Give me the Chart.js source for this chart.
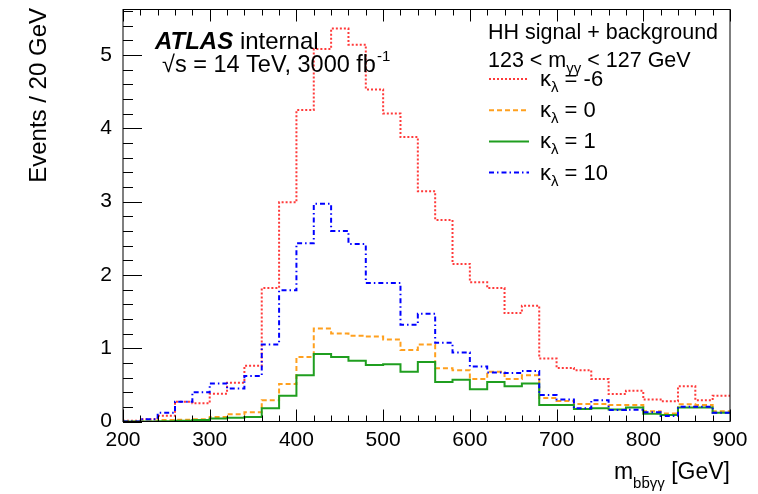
<!DOCTYPE html>
<html>
<head>
<meta charset="utf-8">
<script src="https://cdn.jsdelivr.net/npm/chart.js@4.4.1/dist/chart.umd.min.js"></script>
<style>
  html, body { margin: 0; padding: 0; background: #fff; }
  #wrap { width: 758px; height: 494px; }
</style>
</head>
<body>
<div id="wrap"><canvas id="hhChart"></canvas></div>
<script>
// bin lower edges in GeV (20 GeV bins), last bin closes at xMax
const binLow = [200, 220, 240, 260, 280, 300, 320, 340, 360, 380,
                400, 420, 440, 460, 480, 500, 520, 540, 560, 580,
                600, 620, 640, 660, 680, 700, 720, 740, 760, 780,
                800, 820, 840, 860, 880];
const xMax = 900;

// events per bin
const kMinus6 = [0.01, 0.03, 0.08, 0.27, 0.25, 0.38, 0.53, 0.76, 1.82, 2.99,
                 4.25, 5.08, 5.36, 5.14, 4.53, 4.20, 3.88, 3.14, 2.75, 2.15,
                 1.90, 1.82, 1.48, 1.58, 0.86, 0.73, 0.70, 0.58, 0.375, 0.42,
                 0.30, 0.275, 0.48, 0.29, 0.35];
const kZero = [0.0, 0.0, 0.02, 0.025, 0.03, 0.06, 0.10, 0.125, 0.29, 0.51,
               0.88, 1.27, 1.20, 1.17, 1.16, 1.12, 0.975, 1.05, 0.725, 0.70,
               0.58, 0.68, 0.58, 0.63, 0.32, 0.28, 0.24, 0.24, 0.225, 0.225,
               0.14, 0.11, 0.235, 0.225, 0.14];
const kOne = [0.0, 0.0, 0.005, 0.01, 0.02, 0.04, 0.05, 0.06, 0.18, 0.35,
              0.63, 0.92, 0.88, 0.83, 0.77, 0.78, 0.68, 0.81, 0.54, 0.57,
              0.44, 0.54, 0.48, 0.52, 0.225, 0.225, 0.17, 0.18, 0.165, 0.19,
              0.105, 0.09, 0.19, 0.19, 0.12];
const kTen = [0.0, 0.03, 0.12, 0.27, 0.40, 0.52, 0.45, 0.62, 1.05, 1.79,
              2.43, 2.97, 2.60, 2.42, 1.89, 1.89, 1.32, 1.47, 1.075, 0.94,
              0.75, 0.67, 0.66, 0.69, 0.36, 0.30, 0.18, 0.29, 0.157, 0.16,
              0.125, 0.075, 0.20, 0.20, 0.12];

const legendValues = ['-6', '0', '1', '10'];
const xTickValues = [200, 300, 400, 500, 600, 700, 800, 900];
const yTickValues = [0, 1, 2, 3, 4, 5];
const yMax = 5.62;

const FONT = '"Liberation Sans", Arial, Helvetica, sans-serif';

// turn bin contents into step points (left edges + closing edge)
function histPoints(vals) {
  const pts = binLow.map((x, i) => ({ x: x, y: vals[i] }));
  pts.push({ x: xMax, y: vals[vals.length - 1] });
  return pts;
}

// ROOT-like frame, inward ticks, labels and legend
const rootStyle = {
  id: 'rootStyle',
  beforeDraw(chart) {
    const ctx = chart.ctx;
    ctx.save();
    ctx.fillStyle = '#fff';
    ctx.fillRect(0, 0, chart.width, chart.height);
    ctx.restore();
  },
  afterDraw(chart) {
    const { ctx, chartArea: a } = chart;
    const xs = chart.scales.x, ys = chart.scales.y;
    ctx.save();
    ctx.strokeStyle = '#000';
    ctx.lineWidth = 1;
    ctx.setLineDash([]);
    ctx.strokeRect(a.left, a.top, a.right - a.left, a.bottom - a.top);

    ctx.beginPath();
    for (let v = 200; v <= 900; v += 20) {
      const px = Math.round(xs.getPixelForValue(v)) + 0.5;
      const len = v % 100 === 0 ? 12 : 6;
      ctx.moveTo(px, a.bottom); ctx.lineTo(px, a.bottom - len);
      ctx.moveTo(px, a.top); ctx.lineTo(px, a.top + len);
    }
    for (let k = 0; k <= 28; k++) {
      const py = Math.round(ys.getPixelForValue(k * 0.2)) + 0.5;
      const len = k % 5 === 0 ? 19 : 10;
      ctx.moveTo(a.left, py); ctx.lineTo(a.left + len, py);
    }
    ctx.stroke();

    ctx.fillStyle = '#000';
    ctx.textBaseline = 'alphabetic';
    ctx.textAlign = 'left';

    // ATLAS label
    ctx.font = 'italic bold 24px ' + FONT;
    ctx.fillText('ATLAS', 155, 49);
    const wAtlas = ctx.measureText('ATLAS').width;
    ctx.font = '24px ' + FONT;
    ctx.fillText(' internal', 155 + wAtlas, 49);

    ctx.font = '23.5px ' + FONT;
    const lumi = '\u221As = 14 TeV, 3000 fb';
    ctx.fillText(lumi, 162, 72);
    const wLumi = ctx.measureText(lumi).width;
    ctx.font = '15px ' + FONT;
    ctx.fillText('-1', 162 + wLumi + 1, 61);

    // selection text
    ctx.font = '21.5px ' + FONT;
    ctx.fillText('HH signal + background', 488, 39);
    let cx = 488;
    ctx.fillText('123 < m', cx, 67);
    cx += ctx.measureText('123 < m').width;
    ctx.font = '15px ' + FONT;
    ctx.fillText('\u03B3\u03B3', cx, 73);
    cx += ctx.measureText('\u03B3\u03B3').width;
    ctx.font = '21.5px ' + FONT;
    ctx.fillText(' < 127 GeV', cx, 67);

    // legend
    const order = [0, 1, 2, 3];
    order.forEach((di, i) => {
      const ds = chart.data.datasets[di];
      const ly = 79 + i * 31.2;
      ctx.save();
      ctx.strokeStyle = ds.borderColor;
      ctx.lineWidth = ds.borderWidth;
      ctx.setLineDash(ds.borderDash || []);
      ctx.beginPath();
      ctx.moveTo(489, ly); ctx.lineTo(529, ly);
      ctx.stroke();
      ctx.restore();
      let tx = 540;
      ctx.font = '22px ' + FONT;
      ctx.fillText('\u03BA', tx, ly + 7);
      tx += ctx.measureText('\u03BA').width;
      ctx.font = '15px ' + FONT;
      ctx.fillText('\u03BB', tx, ly + 13);
      tx += ctx.measureText('\u03BB').width;
      ctx.font = '22px ' + FONT;
      ctx.fillText(' = ' + legendValues[i], tx, ly + 7);
    });

    // axis titles
    ctx.font = '24px ' + FONT;
    ctx.save();
    ctx.translate(46, 8);
    ctx.rotate(-Math.PI / 2);
    ctx.textAlign = 'right';
    ctx.fillText('Events / 20 GeV', 0, 0);
    ctx.restore();

    ctx.font = '23px ' + FONT;
    const tail = ' [GeV]';
    const wTail = ctx.measureText(tail).width;
    ctx.font = '15px ' + FONT;
    const sub = 'bb\u03B3\u03B3';
    const wSub = ctx.measureText(sub).width;
    const wB = ctx.measureText('b').width;
    ctx.font = '23px ' + FONT;
    const wM = ctx.measureText('m').width;
    let ax = 730 - wTail - wSub - wM;
    ctx.fillText('m', ax, 479);
    ax += wM;
    ctx.font = '15px ' + FONT;
    ctx.fillText(sub, ax, 488);
    ctx.beginPath();
    ctx.lineWidth = 1;
    ctx.moveTo(ax + wB + 1, 476.5); ctx.lineTo(ax + 2 * wB - 1, 476.5);
    ctx.stroke();
    ax += wSub;
    ctx.font = '23px ' + FONT;
    ctx.fillText(tail, ax, 479);
    ctx.restore();
  }
};

const hhChart = new Chart(document.getElementById('hhChart'), {
  type: 'line',
  data: {
    datasets: [{
      label: 'kl = -6',
      data: histPoints(kMinus6),
      borderColor: '#ff3a3a',
      borderWidth: 2,
      borderDash: [2, 2],
      order: 3
    }, {
      label: 'kl = 0',
      data: histPoints(kZero),
      borderColor: '#ffa01e',
      borderWidth: 2,
      borderDash: [5, 3],
      order: 2
    }, {
      label: 'kl = 1',
      data: histPoints(kOne),
      borderColor: '#1f9e1f',
      borderWidth: 2,
      order: 1
    }, {
      label: 'kl = 10',
      data: histPoints(kTen),
      borderColor: '#0000ff',
      borderWidth: 2,
      borderDash: [5, 3, 1.5, 3],
      order: 0
    }]
  },
  options: {
    responsive: true,
    maintainAspectRatio: false,
    animation: false,
    layout: { padding: { top: 9.5, right: 28, bottom: 0, left: 0 } },
    elements: {
      line: { stepped: 'before', fill: false, tension: 0 },
      point: { radius: 0, hoverRadius: 0 }
    },
    plugins: {
      legend: { display: false },
      tooltip: { enabled: false }
    },
    scales: {
      x: {
        type: 'linear',
        min: 200,
        max: xMax,
        afterBuildTicks: s => { s.ticks = xTickValues.map(v => ({ value: v })); },
        afterFit: s => { s.height = 72.5; s.paddingLeft = 0; s.paddingRight = 0; },
        grid: { display: false, drawTicks: false },
        border: { display: false },
        ticks: {
          color: '#000',
          font: { family: FONT, size: 21 },
          padding: 6,
          maxRotation: 0,
          autoSkip: false
        }
      },
      y: {
        type: 'linear',
        min: 0,
        max: yMax,
        afterBuildTicks: s => { s.ticks = yTickValues.map(v => ({ value: v })); },
        afterFit: s => { s.width = 123; s.paddingTop = 0; s.paddingBottom = 0; },
        grid: { display: false, drawTicks: false },
        border: { display: false },
        ticks: {
          color: '#000',
          font: { family: FONT, size: 21 },
          padding: 11
        }
      }
    }
  },
  plugins: [rootStyle]
});
</script>
</body>
</html>
